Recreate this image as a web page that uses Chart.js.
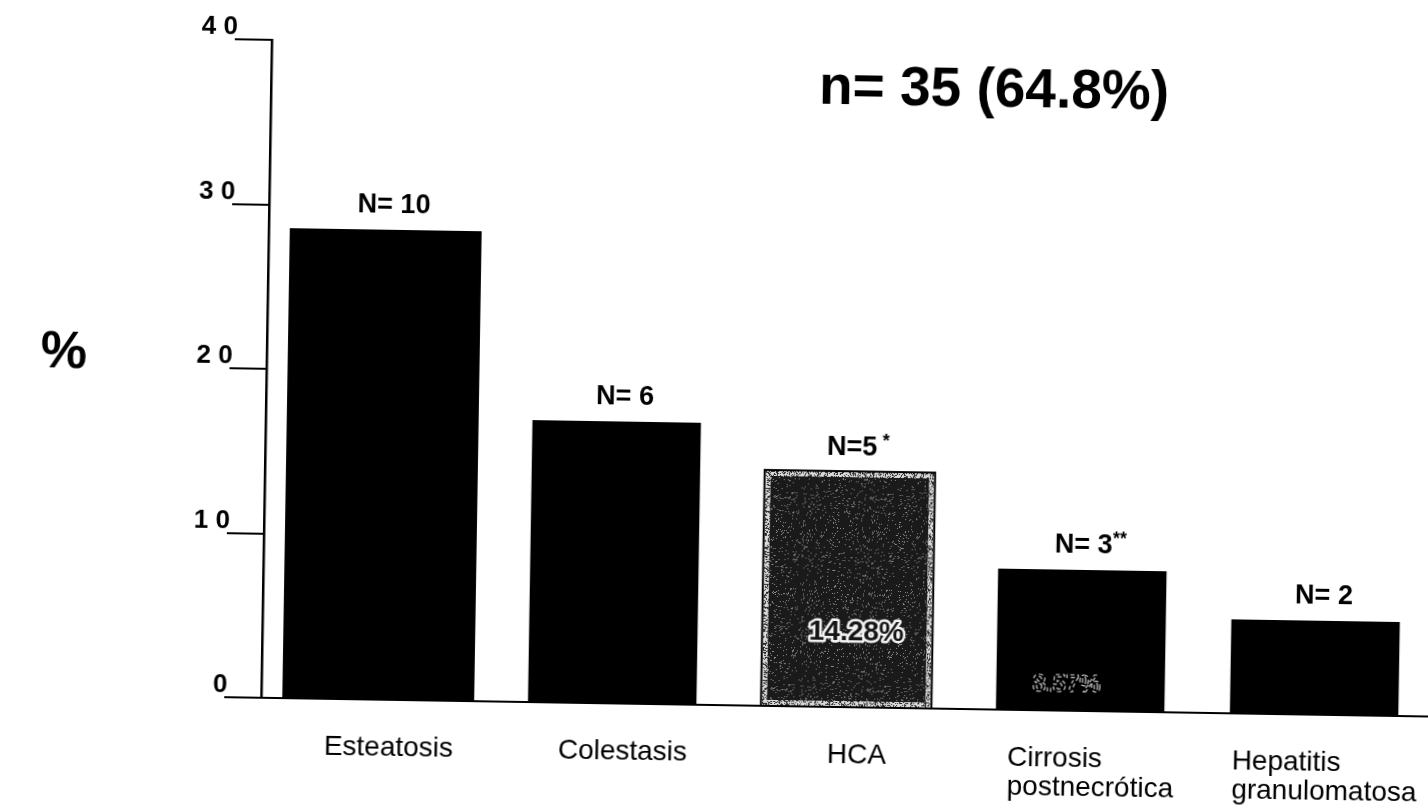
<!DOCTYPE html>
<html>
<head>
<meta charset="utf-8">
<script src="https://cdn.jsdelivr.net/npm/chart.js@4/dist/chart.umd.min.js"></script>
<style>
  html, body { margin: 0; padding: 0; background: #fff; overflow: hidden; width: 1428px; height: 808px; }
  /* the printed figure sits very slightly turned on the page */
  #wrap { position: absolute; left: 0; top: 0; width: 1450px; height: 808px;
          transform-origin: 714px 404px; transform: rotate(0.92deg); }
  canvas { display: block; }
</style>
</head>
<body>
<div id="wrap"><canvas id="c" width="1450" height="808"></canvas></div>
<script>
// Hepatic lesions, share of 35 cases (%)
const categories   = [['Esteatosis'], ['Colestasis'], ['HCA'], ['Cirrosis', 'postnecrótica'], ['Hepatitis', 'granulomatosa']];
const percentValues = [28.57, 17.14, 14.28, 8.57, 5.71];
const countLabels  = ['N= 10', 'N= 6', 'N=5', 'N= 3', 'N= 2'];
const countMarks   = ['', '', ' *', '**', ''];
const insideLabels = ['', '', '14.28%', '8.57%', ''];
const tickLabels   = ['0', '1 0', '2 0', '3 0', '4 0'];
const totalLabel   = 'n= 35 (64.8%)';
const axisTitle    = '%';

const FONT = "'Liberation Sans', Arial, Helvetica, sans-serif";
const texturedIndex = 2;   // HCA bar is printed with a screened fill
const wideIndex = 0;       // first bar is drawn wider

// deterministic grain texture for the screened bar
function grainPattern(base, speck, density, seed) {
  const c = document.createElement('canvas');
  c.width = c.height = 96;
  const g = c.getContext('2d');
  g.fillStyle = base;
  g.fillRect(0, 0, 96, 96);
  g.fillStyle = speck;
  for (let y = 0; y < 96; y++) {
    for (let x = 0; x < 96; x++) {
      let h = (x * 374761393 + y * 668265263 + seed * 1442695041) | 0;
      h = Math.imul(h ^ (h >>> 13), 1274126177);
      h = (h ^ (h >>> 16)) >>> 0;
      if ((h % 1000) / 1000 < density) g.fillRect(x, y, 1, 1);
    }
  }
  return g.createPattern(c, 'repeat');
}
const screenFill = grainPattern('#1a1a1a', '#8c8c8c', 0.07, 3);
const screenEdge = grainPattern('#dadada', '#2a2a2a', 0.35, 7);

const wideData = percentValues.map((v, i) => (i === wideIndex ? v : null));
const restData = percentValues.map((v, i) => (i === wideIndex ? null : v));

const annotate = {
  id: 'annotate',
  afterDatasetsDraw(chart) {
    const ctx = chart.ctx;
    const bars = [];
    chart.data.datasets.forEach((ds, di) => {
      chart.getDatasetMeta(di).data.forEach((el, i) => {
        if (ds.data[i] !== null && ds.data[i] !== undefined) bars[i] = el;
      });
    });
    ctx.save();
    bars.forEach((el, i) => {
      const p = el.getProps(['x', 'y', 'base', 'width'], true);
      // frame round the screened bar
      if (i === texturedIndex) {
        ctx.strokeStyle = '#000';
        ctx.lineWidth = 2;
        ctx.strokeRect(p.x - p.width / 2 - 1, p.y - 1, p.width + 2, p.base - p.y + 2);
      }
      // count label above each bar
      const cx = p.x + 8;
      const by = p.y - 17;
      ctx.font = `bold 27px ${FONT}`;
      const w1 = ctx.measureText(countLabels[i]).width;
      ctx.font = `bold 18px ${FONT}`;
      const w2 = countMarks[i] ? ctx.measureText(countMarks[i]).width : 0;
      const left = cx - (w1 + w2) / 2;
      ctx.textAlign = 'left';
      ctx.textBaseline = 'alphabetic';
      ctx.fillStyle = '#000';
      ctx.font = `bold 27px ${FONT}`;
      ctx.fillText(countLabels[i], left, by);
      if (w2) {
        ctx.font = `bold 18px ${FONT}`;
        ctx.fillText(countMarks[i], left + w1, by - 9);
      }
      // percentage printed inside the bar
      if (insideLabels[i]) {
        ctx.textAlign = 'center';
        ctx.textBaseline = 'middle';
        if (i === texturedIndex) {
          ctx.font = `bold 28px ${FONT}`;
          ctx.lineJoin = 'round';
          ctx.strokeStyle = '#f2f2f2';
          ctx.lineWidth = 5;
          ctx.strokeText(insideLabels[i], p.x + 9, p.base - 74);
          ctx.fillStyle = '#151515';
          ctx.fillText(insideLabels[i], p.x + 9, p.base - 74);
        } else {
          ctx.font = `bold 24px ${FONT}`;
          ctx.strokeStyle = 'rgba(255,255,255,0.75)';
          ctx.lineWidth = 1.2;
          ctx.setLineDash([4, 3]);
          ctx.strokeText(insideLabels[i], p.x - 14, p.base - 25);
          ctx.setLineDash([]);
        }
      }
    });
    ctx.restore();
  },
  afterDraw(chart) {
    const ctx = chart.ctx;
    const area = chart.chartArea;
    const xs = chart.scales.x;
    ctx.save();
    ctx.fillStyle = '#000';
    // category names, left-aligned block centred under each bar
    ctx.font = `28px ${FONT}`;
    ctx.textAlign = 'left';
    ctx.textBaseline = 'alphabetic';
    categories.forEach((lines, i) => {
      const cx = xs.getPixelForValue(i) + 11;
      const w = Math.max(...lines.map(l => ctx.measureText(l).width));
      lines.forEach((l, k) => ctx.fillText(l, cx - w / 2, area.bottom + 56 + k * 29));
    });
    // total
    ctx.font = `bold 55px ${FONT}`;
    ctx.textAlign = 'center';
    ctx.fillText(totalLabel, area.left + 723, area.top + 55);
    // value axis title
    ctx.font = `bold 52px ${FONT}`;
    ctx.fillText(axisTitle, 63, 378);
    ctx.restore();
  }
};

new Chart(document.getElementById('c'), {
  type: 'bar',
  data: {
    labels: categories.map(l => l.join(' ')),
    datasets: [
      {
        data: wideData,
        backgroundColor: '#000',
        borderWidth: 0,
        grouped: false,
        barPercentage: 0.82,
        categoryPercentage: 1
      },
      {
        data: restData,
        backgroundColor: ctx => (ctx.dataIndex === texturedIndex ? screenFill : '#000'),
        borderColor: screenEdge,
        borderWidth: ctx => (ctx.dataIndex === texturedIndex ? 5 : 0),
        borderSkipped: false,
        grouped: false,
        barPercentage: 0.72,
        categoryPercentage: 1
      }
    ]
  },
  options: {
    responsive: false,
    animation: false,
    devicePixelRatio: 1,
    layout: { padding: { left: 0, top: 47, right: 14, bottom: 0 } },
    plugins: { legend: { display: false }, tooltip: { enabled: false }, title: { display: false } },
    scales: {
      x: {
        grid: { drawOnChartArea: false, drawTicks: false },
        border: { display: true, color: '#000', width: 2 },
        ticks: { display: false },
        afterFit: s => { s.height = 103; }
      },
      y: {
        min: 0,
        max: 40,
        grid: { drawOnChartArea: false, drawTicks: true, tickLength: 37, color: '#000', tickColor: '#000', lineWidth: 2, tickWidth: 2 },
        border: { display: true, color: '#000', width: 2.5 },
        ticks: {
          stepSize: 10,
          padding: -3,
          labelOffset: -12,
          color: '#000',
          font: { family: FONT, size: 26, weight: 'bold' },
          callback: (v, i) => tickLabels[i]
        },
        afterFit: s => { s.width = 266; }
      }
    }
  },
  plugins: [annotate]
});
</script>
</body>
</html>
